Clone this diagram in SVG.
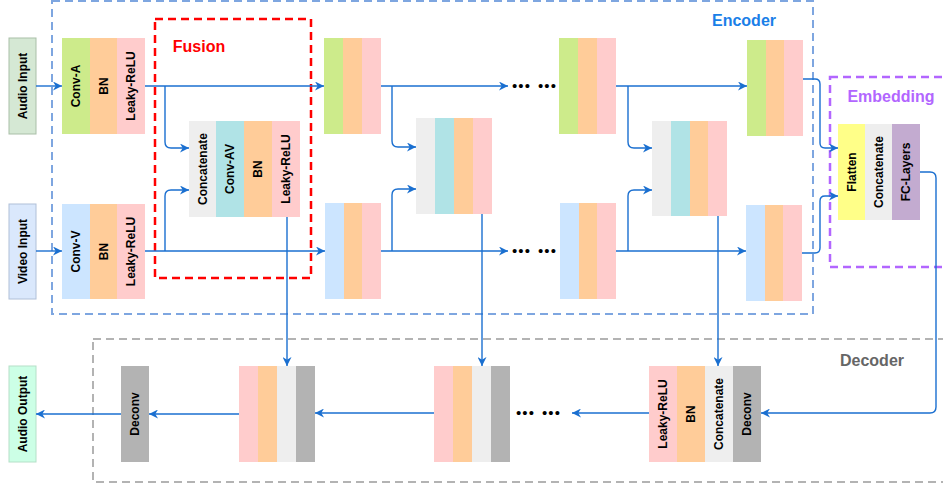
<svg xmlns="http://www.w3.org/2000/svg" width="943" height="488" viewBox="0 0 943 488">
<defs>
<marker id="arr" viewBox="0 0 10 10" markerUnits="userSpaceOnUse" markerWidth="9" markerHeight="9" refX="10" refY="5" orient="auto">
<path d="M0 0 L10 5 L0 10 L3 5 z" fill="#1a6fd0"/>
</marker>
<style>
.t{font-family:"Liberation Sans",Arial,sans-serif;font-weight:bold;font-size:12px;fill:#000;text-anchor:middle;dominant-baseline:central}
.lbl{font-family:"Liberation Sans",Arial,sans-serif;font-weight:bold;font-size:16px;text-anchor:middle}
.dots{font-family:"Liberation Sans",Arial,sans-serif;font-size:15px;letter-spacing:1.2px;text-anchor:middle;fill:#000}
.c{fill:none;stroke:#1a6fd0;stroke-width:1.4;marker-end:url(#arr)}
.g{fill:#cdeb8b}.o{fill:#ffcc99}.p{fill:#ffcccc}.b{fill:#cce5ff}.gr{fill:#eeeeee}.tl{fill:#b0e3e6}.dg{fill:#b3b3b3}.y{fill:#ffff88}.pu{fill:#c3abd0}
</style>
</defs>
<rect width="943" height="488" fill="#fff"/>

<!-- containers -->
<g id="encoder">
<rect x="52" y="1" width="761" height="313" fill="none" stroke="#7ea6e0" stroke-width="2" stroke-dasharray="8 5"/>
<text class="lbl" x="744" y="26" fill="#1a7fe8">Encoder</text>
</g>
<g id="fusion">
<rect x="155" y="19" width="156" height="259" fill="none" stroke="#ff0000" stroke-width="2.5" stroke-dasharray="8 5"/>
<text class="lbl" x="199" y="52" fill="#ff0000">Fusion</text>
</g>
<g id="embedding">
<rect x="830" y="77" width="130" height="190" fill="none" stroke="#b266ff" stroke-width="2.5" stroke-dasharray="8 5"/>
<text class="lbl" x="891" y="102" fill="#b266ff">Embedding</text>
</g>
<g id="decoder">
<rect x="93" y="339" width="870" height="143" fill="none" stroke="#b3b3b3" stroke-width="2" stroke-dasharray="8 5"/>
<text class="lbl" x="872" y="366" fill="#666666">Decoder</text>
</g>

<!-- inputs/outputs -->
<g id="audio-input">
<rect x="9" y="38" width="27" height="96" fill="#d5e8d4" stroke="#a9bfa8" stroke-width="1"/>
<text class="t" transform="rotate(-90 22.5 86)" x="22.5" y="86">Audio Input</text>
</g>
<g id="video-input">
<rect x="9" y="204" width="27" height="95" fill="#dae8fc" stroke="#b0c0d8" stroke-width="1"/>
<text class="t" transform="rotate(-90 22.5 251.5)" x="22.5" y="251.5">Video Input</text>
</g>
<g id="audio-output">
<rect x="9" y="366" width="27" height="96" fill="#ccffe6" stroke="#b5e0c8" stroke-width="1"/>
<text class="t" transform="rotate(-90 22.5 414)" x="22.5" y="414">Audio Output</text>
</g>

<!-- encoder column 1 -->
<g id="conv-a">
<rect class="g" x="62" y="38" width="28" height="96"/>
<rect class="o" x="90" y="38" width="27" height="96"/>
<rect class="p" x="117" y="38" width="28" height="96"/>
<text class="t" transform="rotate(-90 76 86)" x="76" y="86">Conv-A</text>
<text class="t" transform="rotate(-90 103.5 86)" x="103.5" y="86">BN</text>
<text class="t" transform="rotate(-90 131 86)" x="131" y="86">Leaky-ReLU</text>
</g>
<g id="conv-v">
<rect class="b" x="62" y="204" width="28" height="95"/>
<rect class="o" x="90" y="204" width="27" height="95"/>
<rect class="p" x="117" y="204" width="28" height="95"/>
<text class="t" transform="rotate(-90 76 251.5)" x="76" y="251.5">Conv-V</text>
<text class="t" transform="rotate(-90 103.5 251.5)" x="103.5" y="251.5">BN</text>
<text class="t" transform="rotate(-90 131 251.5)" x="131" y="251.5">Leaky-ReLU</text>
</g>
<g id="fusion-block">
<rect class="gr" x="189" y="121" width="27" height="96"/>
<rect class="tl" x="216" y="121" width="28" height="96"/>
<rect class="o" x="244" y="121" width="28" height="96"/>
<rect class="p" x="272" y="121" width="28" height="96"/>
<text class="t" transform="rotate(-90 202.5 169)" x="202.5" y="169">Concatenate</text>
<text class="t" transform="rotate(-90 230 169)" x="230" y="169">Conv-AV</text>
<text class="t" transform="rotate(-90 258 169)" x="258" y="169">BN</text>
<text class="t" transform="rotate(-90 286 169)" x="286" y="169">Leaky-ReLU</text>
</g>

<!-- encoder column 2 -->
<g id="enc2-a">
<rect class="g" x="324" y="38" width="19" height="96"/>
<rect class="o" x="343" y="38" width="19" height="96"/>
<rect class="p" x="362" y="38" width="19" height="96"/>
</g>
<g id="enc2-v">
<rect class="b" x="325" y="203" width="19" height="96"/>
<rect class="o" x="344" y="203" width="18" height="96"/>
<rect class="p" x="362" y="203" width="19" height="96"/>
</g>
<g id="enc2-f">
<rect class="gr" x="416" y="118" width="19" height="96"/>
<rect class="tl" x="435" y="118" width="19" height="96"/>
<rect class="o" x="454" y="118" width="19" height="96"/>
<rect class="p" x="473" y="118" width="19" height="96"/>
</g>

<!-- encoder column 3 -->
<g id="enc3-a">
<rect class="g" x="559" y="38" width="19" height="96"/>
<rect class="o" x="578" y="38" width="19" height="96"/>
<rect class="p" x="597" y="38" width="19" height="96"/>
</g>
<g id="enc3-v">
<rect class="b" x="560" y="203" width="19" height="96"/>
<rect class="o" x="579" y="203" width="18" height="96"/>
<rect class="p" x="597" y="203" width="19" height="96"/>
</g>
<g id="enc3-f">
<rect class="gr" x="652" y="121" width="19" height="95"/>
<rect class="tl" x="671" y="121" width="19" height="95"/>
<rect class="o" x="690" y="121" width="18" height="95"/>
<rect class="p" x="708" y="121" width="19" height="95"/>
</g>

<!-- encoder column 4 -->
<g id="enc4-a">
<rect class="g" x="747" y="40" width="19" height="96"/>
<rect class="o" x="766" y="40" width="18" height="96"/>
<rect class="p" x="784" y="40" width="19" height="96"/>
</g>
<g id="enc4-v">
<rect class="b" x="746" y="205" width="19" height="96"/>
<rect class="o" x="765" y="205" width="18" height="96"/>
<rect class="p" x="783" y="205" width="19" height="96"/>
</g>

<!-- embedding block -->
<g id="embed-block">
<rect class="y" x="838" y="124" width="27" height="96"/>
<rect class="gr" x="865" y="124" width="27" height="96"/>
<rect class="pu" x="892" y="124" width="28" height="96"/>
<text class="t" transform="rotate(-90 851.5 172)" x="851.5" y="172">Flatten</text>
<text class="t" transform="rotate(-90 878.5 172)" x="878.5" y="172">Concatenate</text>
<text class="t" transform="rotate(-90 906 172)" x="906" y="172">FC-Layers</text>
</g>

<!-- decoder -->
<g id="dec3">
<rect class="p" x="649" y="366" width="28" height="96"/>
<rect class="o" x="677" y="366" width="28" height="96"/>
<rect class="gr" x="705" y="366" width="28" height="96"/>
<rect class="dg" x="733" y="366" width="28" height="96"/>
<text class="t" transform="rotate(-90 663 414)" x="663" y="414">Leaky-ReLU</text>
<text class="t" transform="rotate(-90 691 414)" x="691" y="414">BN</text>
<text class="t" transform="rotate(-90 719 414)" x="719" y="414">Concatenate</text>
<text class="t" transform="rotate(-90 747 414)" x="747" y="414">Deconv</text>
</g>
<g id="dec2">
<rect class="p" x="434" y="366" width="19" height="96"/>
<rect class="o" x="453" y="366" width="19" height="96"/>
<rect class="gr" x="472" y="366" width="19" height="96"/>
<rect class="dg" x="491" y="366" width="19" height="96"/>
</g>
<g id="dec1">
<rect class="p" x="239" y="366" width="19" height="96"/>
<rect class="o" x="258" y="366" width="19" height="96"/>
<rect class="gr" x="277" y="366" width="19" height="96"/>
<rect class="dg" x="296" y="366" width="19" height="96"/>
</g>
<g id="deconv">
<rect class="dg" x="121" y="366" width="28" height="96"/>
<text class="t" transform="rotate(-90 135 414)" x="135" y="414">Deconv</text>
</g>

<!-- ellipses -->
<g id="ellipses">
<text class="dots" x="521.6" y="90.5">•••</text>
<text class="dots" x="547.6" y="90.5">•••</text>
<text class="dots" x="521.6" y="255.5">•••</text>
<text class="dots" x="547.6" y="255.5">•••</text>
<text class="dots" x="525.6" y="418">•••</text>
<text class="dots" x="551.6" y="418">•••</text>
</g>

<!-- connectors -->
<g id="connectors">
<path class="c" d="M36 86 H62"/>
<path class="c" d="M36 251 H62"/>
<path class="c" d="M145 86 H324"/>
<path class="c" d="M165 86 V142 Q165 148 171 148 H189"/>
<path class="c" d="M165 251 V196 Q165 190 171 190 H189"/>
<path class="c" d="M145 251 H325"/>
<path class="c" d="M381 86 H508"/>
<path class="c" d="M392 86 V141 Q392 147 398 147 H416"/>
<path class="c" d="M392 251 V195 Q392 189 398 189 H416"/>
<path class="c" d="M381 251 H508"/>
<path class="c" d="M616 86 H747"/>
<path class="c" d="M628 86 V142 Q628 148 634 148 H652"/>
<path class="c" d="M616 251 H746"/>
<path class="c" d="M628 251 V196 Q628 190 634 190 H652"/>
<path class="c" d="M803 79 H815 Q820 79 820 84 V143 Q820 148 825 148 H838"/>
<path class="c" d="M802 253 H815 Q820 253 820 248 V201 Q820 196 825 196 H838"/>
<path class="c" d="M920 172 H930 Q936 172 936 178 V407 Q936 413 930 413 H761"/>
<path class="c" d="M287 217 V366"/>
<path class="c" d="M482 214 V366"/>
<path class="c" d="M718 216 V366"/>
<path class="c" d="M649 413 H572"/>
<path class="c" d="M434 413 H315"/>
<path class="c" d="M239 414 H149"/>
<path class="c" d="M121 414 H36"/>
</g>
</svg>
